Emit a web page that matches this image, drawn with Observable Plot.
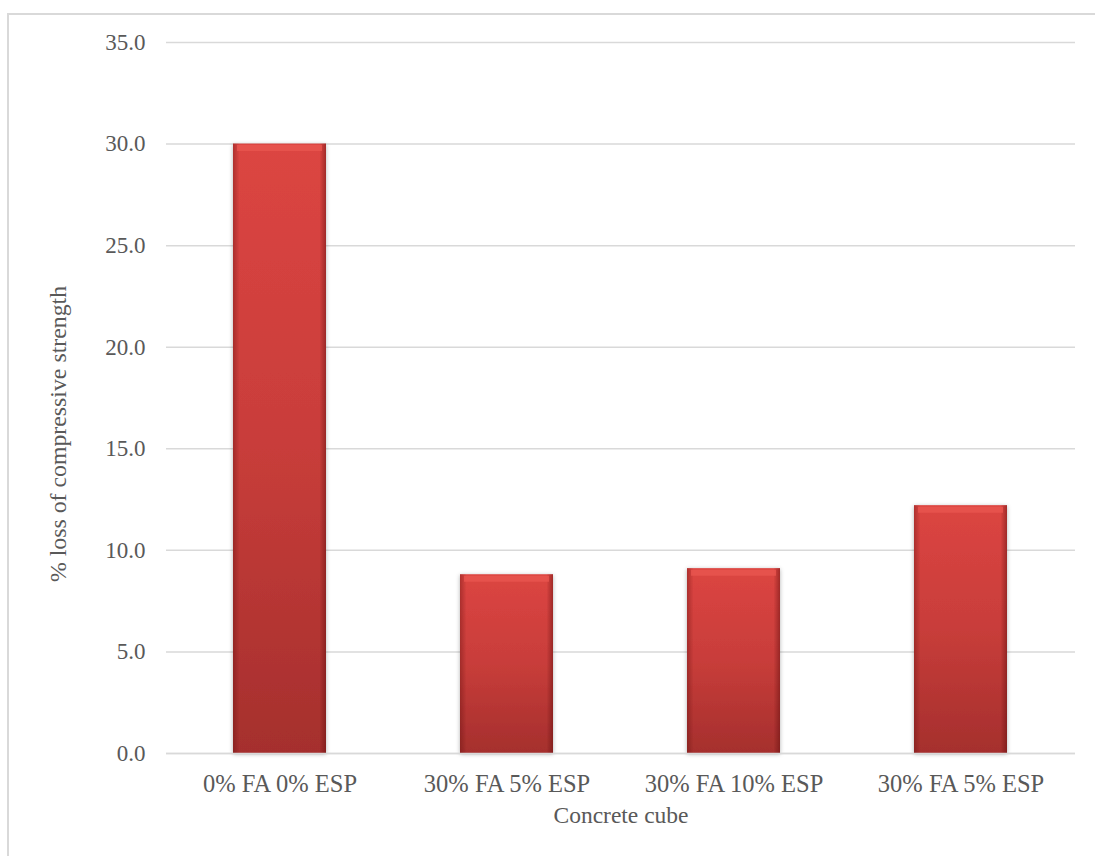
<!DOCTYPE html>
<html>
<head>
<meta charset="utf-8">
<script src="https://cdn.jsdelivr.net/npm/d3@7"></script>
<script src="https://cdn.jsdelivr.net/npm/@observablehq/plot@0.6"></script>
<style>
  html, body { margin: 0; padding: 0; background: #fff; }
  #wrap { position: relative; width: 1095px; height: 856px; overflow: hidden; }
  #frame { position: absolute; left: 7px; top: 13px; width: 1200px; height: 1000px;
           border-left: 2px solid #d9d9d9; border-top: 2px solid #d9d9d9; box-sizing: border-box; }
  #chart { position: absolute; left: 0; top: 0; }
</style>
</head>
<body>
<div id="wrap"><div id="frame"></div><div id="chart"></div></div>
<script>
// Mix labels (two mixes share the same label, so bars are keyed by position)
const categories = ["0% FA 0% ESP", "30% FA 5% ESP", "30% FA 10% ESP", "30% FA 5% ESP"];
// Percentage loss of compressive strength per mix
const lossValues = [30.0, 8.8, 9.1, 12.2];
// Value axis ticks
const yTicks = [0, 5, 10, 15, 20, 25, 30, 35];

const rows = categories.map((c, i) => ({key: i, label: c, value: lossValues[i]}));

// Gradients and shadow used to give the bars a bevelled, glossy look
const defs = () => {
  const ns = "http://www.w3.org/2000/svg";
  const d = document.createElementNS(ns, "defs");
  d.innerHTML = `
    <linearGradient id="barFill" x1="0" y1="0" x2="0" y2="1">
      <stop offset="0" stop-color="#dc4542"/>
      <stop offset="0.5" stop-color="#c83d3a"/>
      <stop offset="1" stop-color="#a52f2d"/>
    </linearGradient>
    <linearGradient id="barEdges" x1="0" y1="0" x2="1" y2="0">
      <stop offset="0" stop-color="#5a0a0a" stop-opacity="0.35"/>
      <stop offset="0.07" stop-color="#5a0a0a" stop-opacity="0"/>
      <stop offset="0.93" stop-color="#5a0a0a" stop-opacity="0"/>
      <stop offset="1" stop-color="#5a0a0a" stop-opacity="0.45"/>
    </linearGradient>
    <filter id="barShadow" x="-20%" y="-5%" width="140%" height="110%">
      <feDropShadow dx="0" dy="1" stdDeviation="2" flood-color="#000" flood-opacity="0.3"/>
    </filter>`;
  return d;
};

// Wrap a mark's output in the soft drop shadow
const withShadow = (index, scales, values, dims, context, next) => {
  const g = next(index, scales, values, dims, context);
  g.setAttribute("filter", "url(#barShadow)");
  return g;
};

const chart = Plot.plot({
  width: 1095,
  height: 856,
  marginLeft: 166,
  marginRight: 20,
  marginTop: 42,
  marginBottom: 103,
  style: {fontFamily: "'Liberation Serif', 'Times New Roman', serif", fontSize: "23px", color: "#595959", background: "transparent"},
  x: {type: "band", domain: rows.map(d => d.key), paddingInner: 0.59, paddingOuter: 0.295},
  y: {domain: [0, 35]},
  marks: [
    defs,
    Plot.gridY(yTicks, {stroke: "#d9d9d9", strokeOpacity: 1, strokeWidth: 1.5}),
    Plot.barY(rows, {x: "key", y: "value", fill: "url(#barFill)", render: withShadow}),
    Plot.barY(rows, {x: "key", y: "value", fill: "url(#barEdges)"}),
    Plot.tickY(rows, {x: "key", y: "value", dy: 4, stroke: "#e9554f", strokeWidth: 6, strokeOpacity: 0.8, insetLeft: 4, insetRight: 4}),
    Plot.ruleY([0], {stroke: "#d9d9d9", strokeWidth: 1.5}),
    Plot.axisY(yTicks, {tickSize: 0, tickPadding: 21, tickFormat: d3.format(".1f"), label: null, fill: "#595959", fontSize: 23}),
    Plot.axisX({tickSize: 0, tickPadding: 21, tickFormat: i => categories[i], label: null, fill: "#595959", fontSize: 24.5}),
    Plot.text(["% loss of compressive strength"], {frameAnchor: "left", textAnchor: "middle", rotate: -90, dx: -108, dy: 36, fill: "#595959", fontSize: 23.8}),
    Plot.text(["Concrete cube"], {frameAnchor: "bottom", lineAnchor: "middle", dy: 62, fill: "#595959", fontSize: 23.5})
  ]
});

document.getElementById("chart").appendChild(chart);
</script>
</body>
</html>
